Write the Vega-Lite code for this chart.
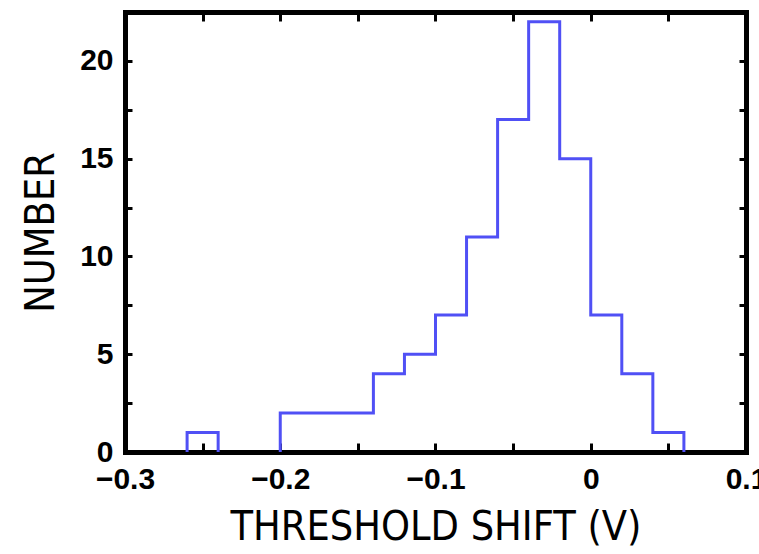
{
  "$schema": "https://vega.github.io/schema/vega-lite/v6.json",
  "autosize": "none",
  "width": 621,
  "height": 440,
  "padding": {"left": 125, "top": 12, "right": 13, "bottom": 102},
  "background": "white",
  "config": {
    "view": {"stroke": null},
    "axis": {
      "domainColor": "black",
      "domainWidth": 5,
      "domainCap": "square",
      "tickColor": "black",
      "tickWidth": 3,
      "grid": false,
      "zindex": 1,
      "labelFont": "Liberation Sans",
      "labelFontWeight": "bold",
      "labelFontSize": 30,
      "labelColor": "black",
      "titleFont": "DejaVu Sans Condensed",
      "titleFontWeight": "normal",
      "titleFontSize": 41,
      "titleColor": "black"
    }
  },
  "data": {
    "values": [
      {"i": 0, "shift": -0.26, "number": 0},
      {"i": 1, "shift": -0.26, "number": 1},
      {"i": 2, "shift": -0.24, "number": 0},
      {"i": 3, "shift": -0.22, "number": null},
      {"i": 4, "shift": -0.20, "number": 0},
      {"i": 5, "shift": -0.20, "number": 2},
      {"i": 6, "shift": -0.18, "number": 2},
      {"i": 7, "shift": -0.16, "number": 2},
      {"i": 8, "shift": -0.14, "number": 4},
      {"i": 9, "shift": -0.12, "number": 5},
      {"i": 10, "shift": -0.10, "number": 7},
      {"i": 11, "shift": -0.08, "number": 11},
      {"i": 12, "shift": -0.06, "number": 17},
      {"i": 13, "shift": -0.04, "number": 22},
      {"i": 14, "shift": -0.02, "number": 15},
      {"i": 15, "shift": 0.00, "number": 7},
      {"i": 16, "shift": 0.02, "number": 4},
      {"i": 17, "shift": 0.04, "number": 1},
      {"i": 18, "shift": 0.06, "number": 0}
    ]
  },
  "layer": [
    {
      "mark": {"type": "line", "interpolate": "step-after", "color": "#5050f5", "strokeWidth": 3, "invalid": "break-paths-show-domains"},
      "encoding": {
        "order": {"field": "i", "type": "quantitative"},
        "x": {
          "field": "shift", "type": "quantitative",
          "scale": {"domain": [-0.3, 0.1], "nice": false, "zero": false},
          "axis": {
            "orient": "bottom",
            "values": [-0.3, -0.25, -0.2, -0.15, -0.1, -0.05, 0, 0.05, 0.1],
            "labelExpr": "abs(datum.value*10 - round(datum.value*10)) < 0.01 ? format(datum.value, '~g') : ''",
            "tickSize": -9,
            "labelPadding": 21,
            "labelFlush": false,
            "labelOverlap": false,
            "title": "THRESHOLD SHIFT (V)",
            "titlePadding": 13
          }
        },
        "y": {
          "field": "number", "type": "quantitative",
          "scale": {"domain": [0, 22.5], "nice": false},
          "axis": {
            "orient": "left",
            "values": [0, 2.5, 5, 7.5, 10, 12.5, 15, 17.5, 20],
            "labelExpr": "datum.value % 5 == 0 ? format(datum.value, 'd') : ''",
            "tickSize": -7,
            "labelPadding": 19,
            "labelFlush": false,
            "labelOverlap": false,
            "title": "NUMBER",
            "titlePadding": 17
          }
        }
      }
    },
    {
      "mark": {"type": "line", "interpolate": "step-after", "strokeOpacity": 0},
      "encoding": {
        "order": {"field": "i", "type": "quantitative"},
        "x": {
          "field": "shift", "type": "quantitative",
          "scale": {"domain": [-0.3, 0.1], "nice": false, "zero": false},
          "axis": {
            "orient": "top",
            "values": [-0.3, -0.25, -0.2, -0.15, -0.1, -0.05, 0, 0.05, 0.1],
            "labels": false,
            "tickSize": -9,
            "title": null
          }
        },
        "y": {
          "field": "number", "type": "quantitative",
          "scale": {"domain": [0, 22.5], "nice": false},
          "axis": {
            "orient": "right",
            "values": [0, 2.5, 5, 7.5, 10, 12.5, 15, 17.5, 20],
            "labels": false,
            "tickSize": -7,
            "title": null
          }
        }
      }
    }
  ],
  "resolve": {"axis": {"x": "independent", "y": "independent"}}
}
